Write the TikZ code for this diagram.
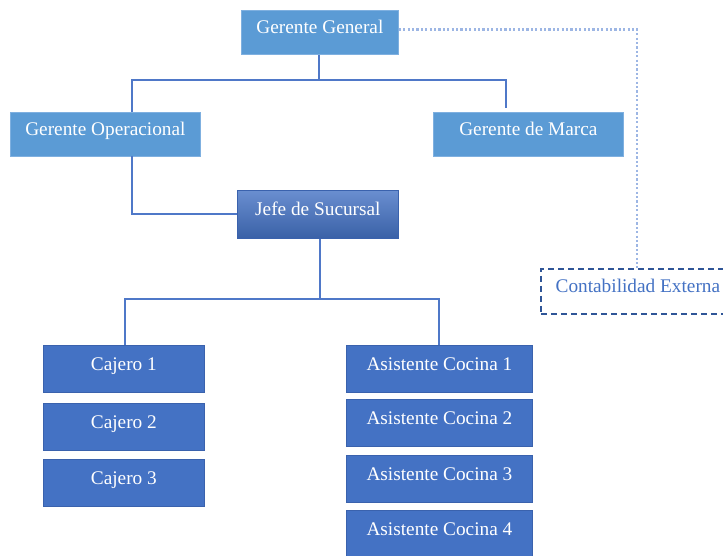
\documentclass[tikz,border=0pt]{standalone}
\usepackage{fontspec}
\setmainfont{Liberation Serif}
\definecolor{lightfill}{HTML}{5B9BD5}
\definecolor{lightedge}{HTML}{7FB0E0}
\definecolor{darkfill}{HTML}{4472C4}
\definecolor{darkedge}{HTML}{3A62AD}
\definecolor{linkblue}{HTML}{4F78C8}
\definecolor{dotblue}{HTML}{9DB6E4}
\definecolor{extedge}{HTML}{2F5597}
\definecolor{exttext}{HTML}{4472C4}
\begin{document}
\begin{tikzpicture}[x=1pt,y=-1pt,
  every node/.style={font=\fontsize{19.3}{22}\selectfont, inner sep=0pt,
    text height=14pt, text depth=11pt, anchor=north west, rectangle},
  lightbox/.style={fill=lightfill, draw=lightedge, line width=0.8pt, text=white},
  darkbox/.style={fill=darkfill, draw=darkedge, line width=0.8pt, text=white},
  jefebox/.style={top color=darkfill!80!white, bottom color=darkfill!85!black,
    draw=darkedge, line width=0.8pt, text=white},
  extbox/.style={fill=white, draw=extedge, line width=1.8pt,
    dash pattern=on 6pt off 4pt, text=exttext},
  link/.style={draw=linkblue, line width=1.8pt},
  dotlink/.style={draw=dotblue, line width=2.2pt, dash pattern=on 2.2pt off 2.2pt}]
\useasboundingbox (0,0) rectangle (723,556);

% upper management
\node[lightbox, minimum width=157pt, minimum height=44pt] (gg) at (241,10) {Gerente General};
\node[lightbox, minimum width=190pt, minimum height=44pt] (go) at (10,112) {Gerente Operacional};
\node[lightbox, minimum width=190pt, minimum height=44pt] (gm) at (433,112) {Gerente de Marca};
\node[jefebox, minimum width=161pt, minimum height=48pt] (js) at (237,190) {Jefe de Sucursal};
\node[extbox, minimum width=194pt, minimum height=45pt] (ext) at (540,268) {Contabilidad Externa};

% cashiers
\node[darkbox, minimum width=161pt, minimum height=47pt] (c1) at (43,345) {Cajero 1};
\node[darkbox, minimum width=161pt, minimum height=47pt] (c2) at (43,403) {Cajero 2};
\node[darkbox, minimum width=161pt, minimum height=47pt] (c3) at (43,459) {Cajero 3};

% kitchen assistants
\node[darkbox, minimum width=186pt, minimum height=47pt] (a1) at (346,345) {Asistente Cocina 1};
\node[darkbox, minimum width=186pt, minimum height=47pt] (a2) at (346,399) {Asistente Cocina 2};
\node[darkbox, minimum width=186pt, minimum height=47pt] (a3) at (346,455) {Asistente Cocina 3};
\node[darkbox, minimum width=186pt, minimum height=47pt] (a4) at (346,510) {Asistente Cocina 4};

% branch points
\coordinate (top) at (319,80);
\coordinate (goTop) at (132,112);
\coordinate (gmTop) at (506,108);
\coordinate (goLow) at (132,156);
\coordinate (mid) at (320,299);
\coordinate (c1Top) at (125,345);
\coordinate (a1Top) at (439,345);

% connectors
\draw[link] (gg.south -| top) -- (top);
\draw[link] (goTop) |- (top) -| (gmTop);
\draw[link] (goLow) |- (js.west);
\draw[link] (js.south -| mid) -- (mid);
\draw[link] (c1Top) |- (mid) -| (a1Top);
\draw[dotlink] (gg.east |- 0,29.5) -- (637,29.5) -- (ext.north -| 637,0);
\end{tikzpicture}
\end{document}
